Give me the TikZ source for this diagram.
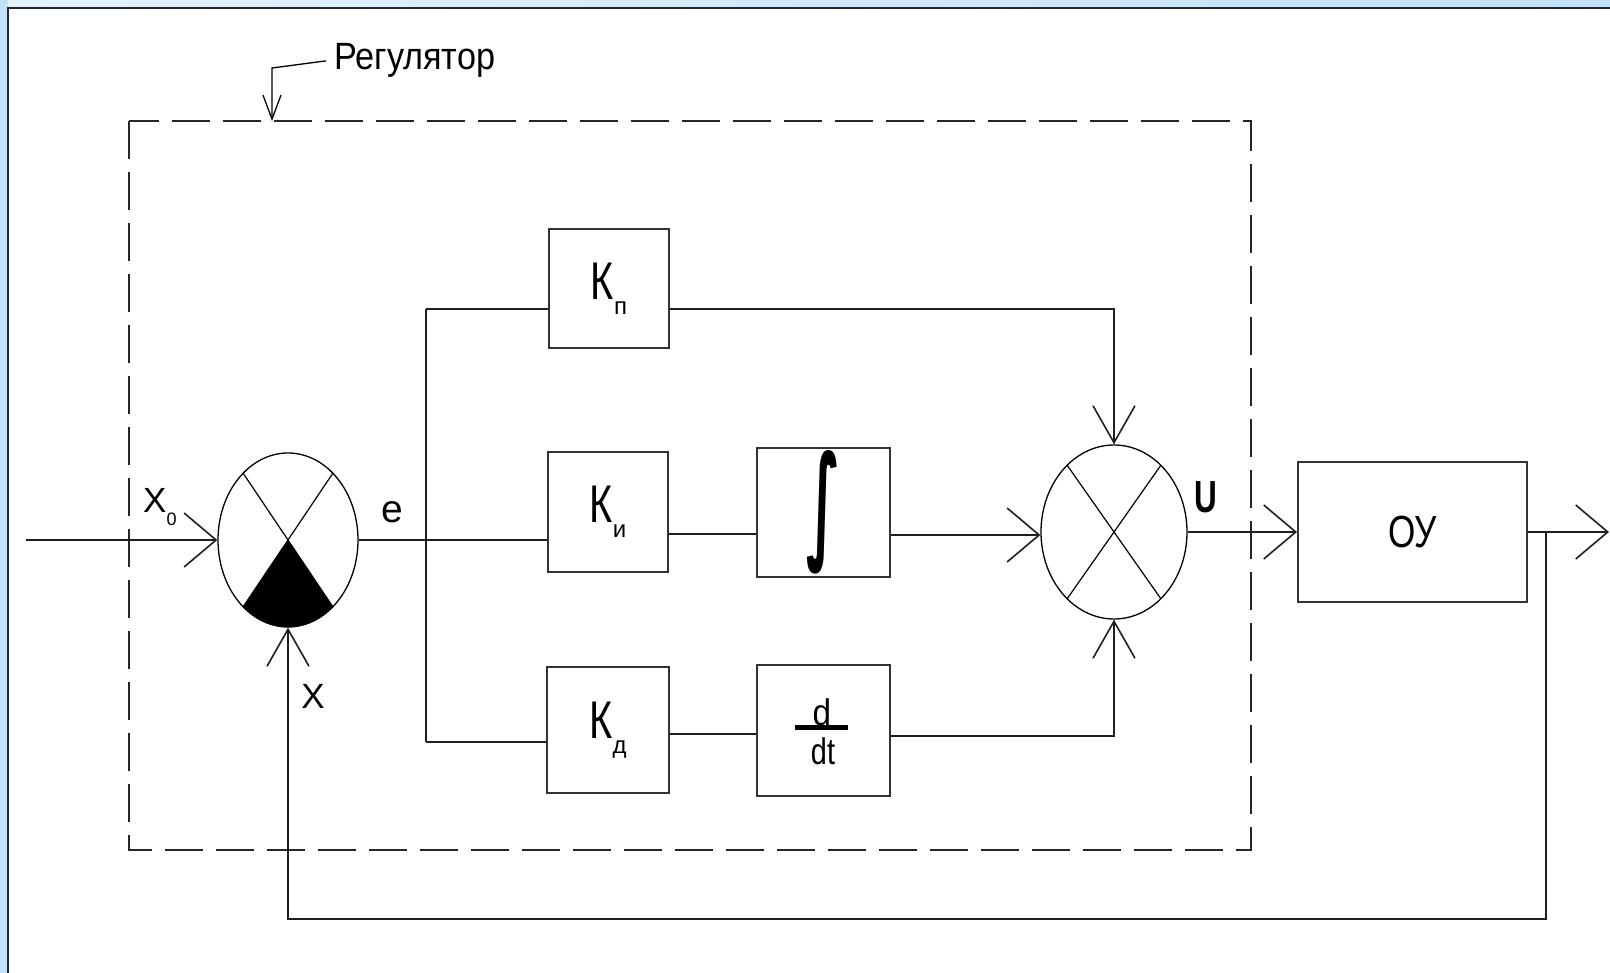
\documentclass[tikz,border=0pt]{standalone}
\usepackage{fontspec}
\setmainfont{Liberation Sans}
\newfontfamily\fK[FakeStretch=0.75]{Liberation Sans}
\newfontfamily\fR[FakeStretch=0.9]{Liberation Sans}
\newfontfamily\fO[FakeStretch=0.78]{Liberation Sans}
\newfontfamily\fU[FakeStretch=0.7]{Liberation Sans}
\newfontfamily\fdv{DejaVu Sans}
\usetikzlibrary{arrows.meta,shapes.geometric,calc}
\definecolor{bandA}{HTML}{C2E0F8}
\definecolor{bandB}{HTML}{E4F2FC}
\newcommand{\Ksub}[1]{{\fK\fontsize{53}{53}\selectfont К}\raisebox{-15pt}{\fontsize{24}{24}\selectfont #1}}
\begin{document}
\begin{tikzpicture}[x=1pt,y=-1pt,
  conn/.style={line width=1.6pt,draw=black!88},
  blk/.style={draw=black!80,line width=2pt,inner sep=0pt,rectangle},
  sumj/.style={draw=black,line width=1.3pt,ellipse,inner sep=0pt},
  xline/.style={line width=1.2pt},
  harrow/.style={-{Straight Barb[length=32pt,width=54pt]}},
  varrow/.style={-{Straight Barb[length=37pt,width=42pt]}},
  larrow/.style={-{Straight Barb[length=24pt,width=18pt]}},
  dashbox/.style={line width=1.5pt,dash pattern=on 38pt off 13pt,draw=black!85},
  lbl/.style={inner sep=0pt}]
\useasboundingbox (0,0) rectangle (1610,973);
% background frame
\fill[bandA] (0,0) rectangle (1610,973);
\fill[left color=bandB,right color=bandA] (8,0) rectangle (1610,8);
\fill[white] (8,8) rectangle (1610,973);
\draw[line width=2.2pt,black!85] (8,973) -- (8,8) -- (1610,8);

% regulator dashed box and caption
\draw[dashbox] (129,121) rectangle (1251,850);
\node[lbl,anchor=base west] (Reg) at (334,70) {\fR\fontsize{38}{38}\selectfont Регулятор};
\coordinate (L1) at (272,68);
\coordinate (L2) at (272,121);
\draw[line width=1.3pt,larrow] ([xshift=-8pt]Reg.west) -- (L1) -- (L2);

% summing junction 1
\coordinate (c1) at (288,540);
\begin{scope}
\clip (c1) ellipse [x radius=70pt, y radius=87pt];
\fill (c1) -- ($(c1)+(135,201)$) -- ($(c1)+(-135,201)$) -- cycle;
\end{scope}
\node[sumj,minimum width=140pt,minimum height=174pt] (S1) at (c1) {};
\draw[xline] ($(c1)+(-45,-67)$) -- ($(c1)+(45,67)$);
\draw[xline] ($(c1)+(45,-67)$) -- ($(c1)+(-45,67)$);

% summing junction 2
\coordinate (c2) at (1114,532);
\node[sumj,minimum width=146pt,minimum height=174pt] (S2) at (c2) {};
\draw[xline] ($(c2)+(-47,-67)$) -- ($(c2)+(47,67)$);
\draw[xline] ($(c2)+(47,-67)$) -- ($(c2)+(-47,67)$);

% blocks
\node[blk,minimum width=120pt,minimum height=119pt] (Kp) at (609,288.5) {\Ksub{п}};
\node[blk,minimum width=120pt,minimum height=120pt] (Ki) at (608,512) {\Ksub{и}};
\node[blk,minimum width=122pt,minimum height=126pt] (Kd) at (608,730) {\Ksub{д}};
\node[blk,minimum width=133pt,minimum height=129pt] (Int) at (823.5,512.5)
  {\resizebox{34pt}{95pt}{\fdv\bfseries ∫}};
\node[blk,minimum width=133pt,minimum height=131pt] (Dif) at (823.5,730.5) {};
\node[lbl,anchor=base] (dd) at (822,725) {\fR\fontsize{37}{37}\selectfont d};
\fill (795,725) rectangle (848,730);
\node[lbl,anchor=base] (dt) at (823,764) {\fO\fontsize{37}{37}\selectfont dt};
\node[blk,minimum width=229pt,minimum height=140pt] (OU) at (1412.5,532)
  {\fO\fontsize{45}{45}\selectfont ОУ};

% labels
\node[lbl,anchor=base west] (lx0) at (143,513) {\fontsize{35}{35}\selectfont X\raisebox{-13pt}{\fontsize{18}{18}\selectfont 0}};
\node[lbl,anchor=base] (le) at (392,522) {\fontsize{39}{39}\selectfont e};
\node[lbl,anchor=base] (lx) at (313,708) {\fontsize{35}{35}\selectfont X};
\node[lbl,anchor=base] (lu) at (1206,512) {\fU\bfseries\fontsize{45}{45}\selectfont U};

% coordinates
\coordinate (In) at (26,540);
\coordinate (Br1) at (426,309);
\coordinate (Br3) at (426,742);
\coordinate (Tp) at (1114,309);
\coordinate (Out) at (1609,532);
\coordinate (F1) at (1546,532);
\coordinate (F2) at (1546,919);
\coordinate (F3) at (288,919);
\coordinate (ki1) at ($(Ki.east)+(0,22)$);
\coordinate (int1) at ($(Int.east)+(0,22.5)$);
\coordinate (kd1) at ($(Kd.east)+(0,4)$);
\coordinate (df1) at ($(Dif.east)+(0,5.5)$);

% connectors
\draw[conn,harrow] (In) -- (S1.west);
\draw[conn] (S1.east) -- (S1.east -| Ki.west);
\draw[conn] (Br1) -- (Br3);
\draw[conn] (Br1) -- (Br1 -| Kp.west);
\draw[conn] (Br3) -- (Br3 -| Kd.west);
\draw[conn,varrow] (Kp.east |- Tp) -- (Tp) -- (S2.north);
\draw[conn] (ki1) -- (ki1 -| Int.west);
\draw[conn,harrow] (int1) -- (int1 -| S2.west);
\draw[conn] (kd1) -- (kd1 -| Dif.west);
\draw[conn,varrow] (df1) -- (df1 -| S2.south) -- (S2.south);
\draw[conn,harrow] (S2.east) -- (S2.east -| OU.west);
\draw[conn,harrow] (OU.east) -- (Out);
\draw[conn,varrow] (F1) -- (F2) -- (F3) -- (S1.south);
\end{tikzpicture}
\end{document}
